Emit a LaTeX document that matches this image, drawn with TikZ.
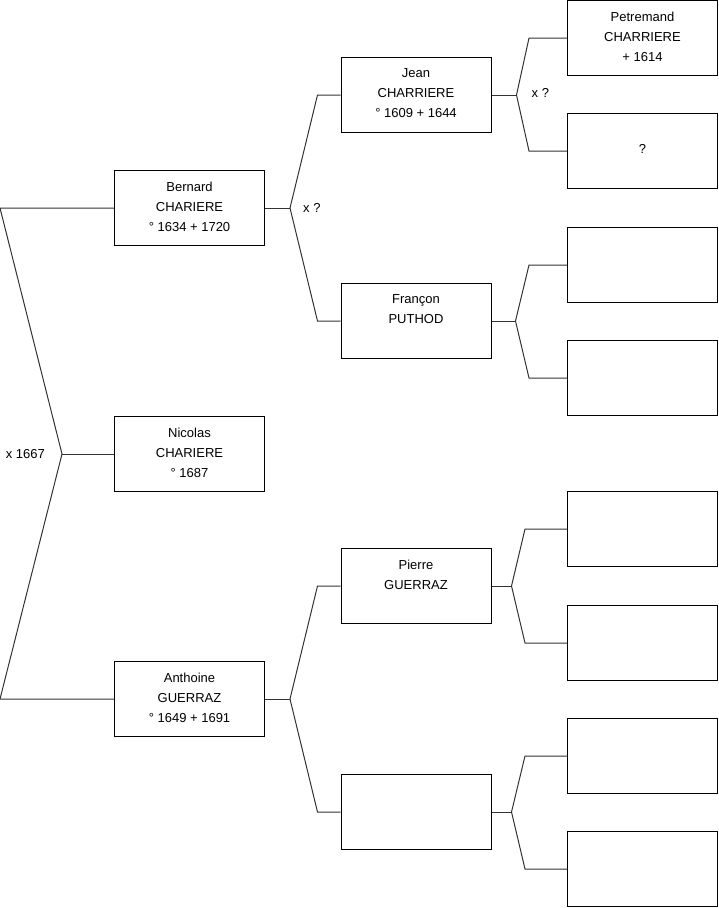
\documentclass[tikz,border=0pt]{standalone}
\usepackage{fontspec}
\setmainfont{Liberation Sans}
\usetikzlibrary{positioning}
\tikzset{
  person/.style={draw,line width=1pt,minimum width=150pt,minimum height=75pt,inner sep=0pt,font=\fontsize{13}{20}\selectfont},
  who/.style={font=\fontsize{13}{20}\selectfont,align=center,anchor=north,inner sep=0pt},
  link/.style={line width=1pt,black!80},
  wed/.style={font=\fontsize{13}{15}\selectfont,inner sep=0pt}
}
% parent -> two parents, #2 stem length, #3 arm length
\newcommand{\fork}[5]{\coordinate (x#1) at ([xshift=#2]#1.east);
\draw[link] (#1.east) -- (x#1);
\draw[link] (#4.west) -- ++(-#3,0) -- (x#1) -- ([xshift=-#3]#5.west) -- (#5.west);}

\begin{document}
\begin{tikzpicture}[x=1pt,y=-1pt]
\useasboundingbox (0,0) rectangle (719,908);
% generation 1 and 2
\node[person] (bernard) at (189.5,208) {};
\node[person] (nicolas) at (189.5,454) {};
\node[person] (anthoine) at (189.5,699) {};
\node[who] (tbernard) at ([yshift=-11.5pt]bernard.north) {Bernard\\CHARIERE\\° 1634 + 1720};
\node[who] (tnicolas) at ([yshift=-11.5pt]nicolas.north) {Nicolas\\CHARIERE\\° 1687};
\node[who] (tanthoine) at ([yshift=-11.5pt]anthoine.north) {Anthoine\\GUERRAZ\\° 1649 + 1691};
% generation 3
\node[person] (jean) at (416,95) {};
\node[person] (francon) at (416,321) {};
\node[person] (pierre) at (416,586) {};
\node[person] (anon) at (416,812) {};
\node[who] (tjean) at ([yshift=-11.5pt]jean.north) {Jean\\CHARRIERE\\° 1609 + 1644};
\node[who] (tfrancon) at ([yshift=-11.5pt]francon.north) {Françon\\PUTHOD};
\node[who] (tpierre) at ([yshift=-11.5pt]pierre.north) {Pierre\\GUERRAZ};
% generation 4
\foreach \i/\y in {1/38,2/151,3/265,4/378,5/529,6/643,7/756,8/869}
  \node[person] (p\i) at (642.5,\y) {};
\node[who] (tp1) at ([yshift=-11.5pt]p1.north) {Petremand\\CHARRIERE\\+ 1614};
\node[who,anchor=base] (tp2) at ([yshift=-40.7pt]p2.north) {?};
% links
\coordinate (xn) at ([xshift=-52pt]nicolas.west);
\coordinate (eb) at ([xshift=-114pt]bernard.west);
\coordinate (ea) at ([xshift=-114pt]anthoine.west);
\draw[link] (bernard.west) -- (eb) -- (xn) -- (ea) -- (anthoine.west);
\draw[link] (xn) -- (nicolas.west);
\fork{bernard}{25pt}{23pt}{jean}{francon}
\fork{anthoine}{25pt}{23pt}{pierre}{anon}
\fork{jean}{25pt}{38pt}{p1}{p2}
\fork{francon}{24pt}{38pt}{p3}{p4}
\fork{pierre}{20pt}{42pt}{p5}{p6}
\fork{anon}{20pt}{42pt}{p7}{p8}
% marriages
\node[wed,left=17pt of xn] (mn) {x 1667};
\node[wed,right=13pt of xbernard] (mb) {x ?};
\node[wed,right=15pt of xjean,yshift=2pt] (mj) {x ?};
\end{tikzpicture}
\end{document}
